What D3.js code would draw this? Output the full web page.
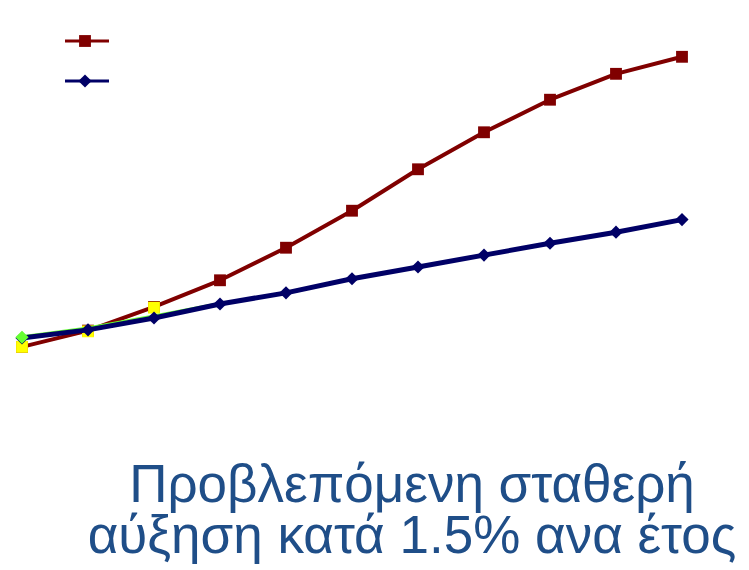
<!DOCTYPE html>
<html>
<head>
<meta charset="utf-8">
<script src="https://cdn.jsdelivr.net/npm/d3@7/dist/d3.min.js"></script>
<style>
  html, body { margin: 0; padding: 0; background: #ffffff; }
  svg { display: block; }
</style>
</head>
<body>
<svg id="chart" width="749" height="570"></svg>
<script>
// Years on the horizontal axis (not labelled)
const years = [2010, 2011, 2012, 2013, 2014, 2015, 2016, 2017, 2018, 2019, 2020];

// Projected index (dark red, squares)
const projected = [98.8, 101.0, 104.2, 107.8, 112.2, 117.2, 122.8, 127.8, 132.2, 135.7, 138.0];

// Steady growth of 1.5% per year (navy, diamonds)
const steady = [100.0, 101.1, 102.7, 104.6, 106.1, 108.0, 109.6, 111.2, 112.8, 114.3, 116.0];

// Recorded values for the first years
const recordedA = [98.8, 100.9, 104.1];          // yellow squares
const recordedB = [100.1, 101.3, 102.9, 104.6];  // green, diamond at start

const titleLines = ["Προβλεπόμενη σταθερή", "αύξηση κατά 1.5% ανα έτος"];

const svg = d3.select("#chart");

const x = d3.scalePoint().domain(years).range([22, 682]);
const y = d3.scaleLinear().domain([95, 140]).range([375, 42]);

const line = d3.line()
  .x((d, i) => x(years[i]))
  .y(d => y(d));

const square = d3.symbol().type(d3.symbolSquare).size(140);
const diamond = d3.symbol().type(d3.symbolDiamond2).size(110);

function drawLine(data, color, width) {
  svg.append("path")
    .datum(data)
    .attr("fill", "none")
    .attr("stroke", color)
    .attr("stroke-width", width)
    .attr("stroke-linejoin", "round")
    .attr("d", line);
}

function drawMarkers(data, color, sym) {
  svg.append("g")
    .selectAll("path")
    .data(data)
    .join("path")
    .attr("transform", (d, i) => `translate(${x(years[i])},${y(d)})`)
    .attr("fill", color)
    .attr("d", sym);
}

// Recorded (yellow) line runs under the projected line
drawLine(recordedA, "#ffff00", 2);

// Projected series
drawLine(projected, "#800000", 4);
drawMarkers(projected, "#800000", square);

// Recorded (yellow) markers
drawMarkers(recordedA, "#ffff00", square);

// Recorded (green) line sits under the steady series
drawLine(recordedB, "#66ff33", 4);

// Steady growth series
drawLine(steady, "#000066", 5);
drawMarkers(steady, "#000066", diamond);

// Green start point
drawMarkers(recordedB.slice(0, 1), "#66ff33", diamond);

// Legend (swatches only)
const legend = svg.append("g");
legend.append("line")
  .attr("x1", 65).attr("x2", 109).attr("y1", 41).attr("y2", 41)
  .attr("stroke", "#800000").attr("stroke-width", 3);
legend.append("path")
  .attr("transform", "translate(85,41)")
  .attr("fill", "#800000")
  .attr("d", square);
legend.append("line")
  .attr("x1", 65).attr("x2", 109).attr("y1", 81).attr("y2", 81)
  .attr("stroke", "#000066").attr("stroke-width", 3);
legend.append("path")
  .attr("transform", "translate(85,81)")
  .attr("fill", "#000066")
  .attr("d", diamond);

// Caption, two lines in one text block
svg.append("text")
  .attr("text-anchor", "middle")
  .attr("font-family", "'Liberation Sans', Arial, sans-serif")
  .attr("font-size", 53)
  .attr("fill", "#1f4e88")
  .selectAll("tspan")
  .data(titleLines)
  .join("tspan")
  .attr("x", 412)
  .attr("y", (d, i) => 502 + i * 51)
  .text(d => d);
</script>
</body>
</html>
